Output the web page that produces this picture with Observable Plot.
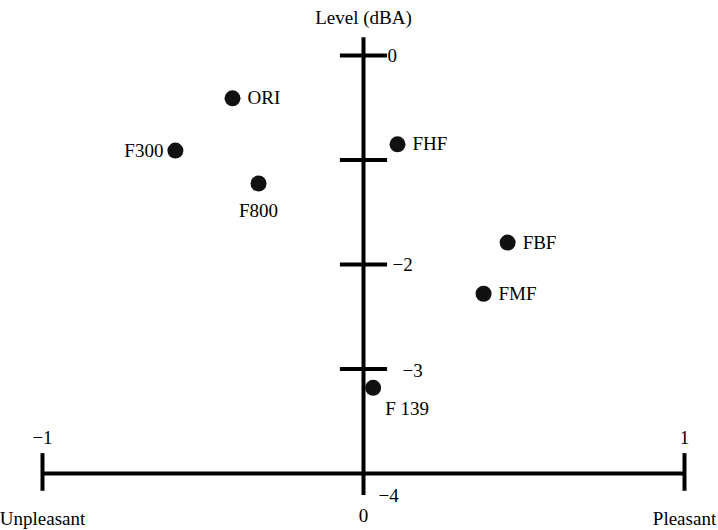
<!DOCTYPE html>
<html>
<head>
<meta charset="utf-8">
<script src="https://cdn.jsdelivr.net/npm/d3@7"></script>
<script src="https://cdn.jsdelivr.net/npm/@observablehq/plot@0.6"></script>
<style>
  html, body { margin: 0; padding: 0; background: #fff; }
  svg { display: block; }
</style>
</head>
<body>
<div id="chart"></div>
<script>
// Data
const names = ["ORI", "F300", "F800", "FHF", "FBF", "FMF", "F 139"];
const pleasantness = [-0.408, -0.586, -0.327, 0.106, 0.449, 0.374, 0.030];
const level = [-0.41, -0.91, -1.225, -0.85, -1.79, -2.28, -3.18];
const labelSide = ["right", "left", "below", "right", "right", "right", "belowright"];

const levelTicks = [0, -1, -2, -3];
const levelTickLabels = ["0", "", "−2", "−3"];
const xTicks = [-1, 1];
const xTickLabels = ["−1", "1"];
const xEndLabels = ["Unpleasant", "Pleasant"];

const points = names.map((n, i) => ({name: n, x: pleasantness[i], y: level[i], side: labelSide[i]}));
const ticks = levelTicks.map((v, i) => ({v, label: levelTickLabels[i]}));
const xt = xTicks.map((v, i) => ({v, label: xTickLabels[i], end: xEndLabels[i]}));

const font = "'Liberation Serif', 'DejaVu Serif', serif";
const sw = 4;
const fs = 19;

const chart = Plot.plot({
  width: 718,
  height: 530,
  margin: 0,
  style: {fontFamily: font, fontSize: fs + "px", background: "#fff", color: "#000"},
  x: {domain: [-1, 1], range: [42, 684], axis: null},
  y: {domain: [0, -4], range: [55, 473], axis: null},
  marks: [
    // horizontal axis
    Plot.ruleY([-4], {x1: -1, x2: 1, stroke: "#000", strokeWidth: sw}),
    // end ticks of horizontal axis
    Plot.ruleX(xt, {x: "v", y1: -3.81, y2: -4.17, stroke: "#000", strokeWidth: sw}),
    // vertical axis
    Plot.ruleX([0], {y1: 0.17, y2: -4.21, stroke: "#000", strokeWidth: sw}),
    // level ticks
    Plot.ruleY(ticks, {y: "v", x1: -0.072, x2: 0.075, stroke: "#000", strokeWidth: sw}),
    // level tick labels
    Plot.text(ticks.filter(d => d.v === 0), {x: 0, y: "v", text: "label", textAnchor: "start", dx: 24, fontSize: fs}),
    Plot.text(ticks.filter(d => d.v === -2), {x: 0, y: "v", text: "label", textAnchor: "start", dx: 29, fontSize: fs}),
    Plot.text(ticks.filter(d => d.v === -3), {x: 0, y: "v", text: "label", textAnchor: "start", dx: 39, dy: 2, fontSize: fs}),
    Plot.text(["−4"], {x: 0, y: -4, text: d => d, textAnchor: "start", dx: 15, dy: 22, fontSize: fs}),
    // x tick labels
    Plot.text(xt, {x: "v", y: -4, text: "label", dy: -36, fontSize: fs}),
    Plot.text(xt, {x: "v", y: -4, text: "end", dy: 45, fontSize: fs}),
    Plot.text(["0"], {x: 0, y: -4, text: d => d, dy: 42, fontSize: fs}),
    // axis title
    Plot.text(["Level (dBA)"], {x: 0, y: 0, text: d => d, dy: -38, fontSize: fs}),
    // points
    Plot.dot(points, {x: "x", y: "y", r: 8, fill: "#111", stroke: "none"}),
    Plot.text(points.filter(d => d.side === "right"), {x: "x", y: "y", text: "name", textAnchor: "start", dx: 15, fontSize: fs}),
    Plot.text(points.filter(d => d.side === "left"), {x: "x", y: "y", text: "name", textAnchor: "end", dx: -12, fontSize: fs}),
    Plot.text(points.filter(d => d.side === "below"), {x: "x", y: "y", text: "name", dy: 27, fontSize: fs}),
    Plot.text(points.filter(d => d.side === "belowright"), {x: "x", y: "y", text: "name", dx: 34, dy: 21, fontSize: fs})
  ]
});

document.getElementById("chart").appendChild(chart);
</script>
</body>
</html>
